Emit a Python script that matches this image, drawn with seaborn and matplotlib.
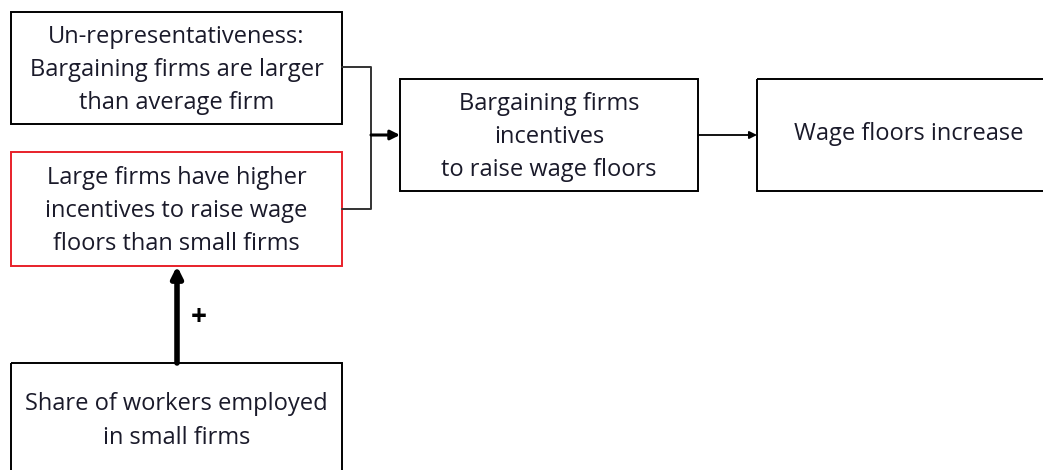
import matplotlib
matplotlib.use("Agg")
import matplotlib.pyplot as plt
import matplotlib.patches as patches
import seaborn as sns

# box labels
box_labels = [
    "Un-representativeness:\nBargaining firms are larger\nthan average firm",
    "Large firms have higher\nincentives to raise wage\nfloors than small firms",
    "Bargaining firms\nincentives\nto raise wage floors",
    "Wage floors increase",
    "Share of workers employed\nin small firms",
]
box_edge = ["black", "#e8202a", "black", "black", "black"]
sign_label = "+"

# layout in pixel coords: (x0, y0, x1, y1)
box_pos = [
    (11, 12, 342, 124),
    (11, 152, 342, 266),
    (400, 79, 698, 191),
    (757, 79, 1060, 191),
    (11, 363, 342, 480),
]
text_y = [70, 211, 137, 134, 421]

sns.set_theme(style="white")
plt.rcParams["font.family"] = ["Open Sans", "DejaVu Sans"]

fig = plt.figure(figsize=(10.43, 4.70), dpi=100)
ax = fig.add_axes([0, 0, 1, 1])
ax.set_xlim(0, 1043)
ax.set_ylim(470, 0)
ax.axis("off")

txt_color = "#1a1a2a"
for lab, (x0, y0, x1, y1), ec, ty in zip(box_labels, box_pos, box_edge, text_y):
    ax.add_patch(patches.Rectangle((x0, y0), x1 - x0, y1 - y0, fill=False,
                                   edgecolor=ec, linewidth=1.4))
    ax.text((x0 + x1) / 2, ty, lab, ha="center", va="center", fontsize=17,
            color=txt_color, linespacing=1.5)

# bracket connector from boxes 1 and 2
conn_x = [342, 371, 371, 342]
conn_y = [67, 67, 209, 209]
sns.lineplot(x=conn_x, y=conn_y, sort=False, estimator=None, errorbar=None,
             color="#333333", linewidth=1.4, ax=ax)
ax.annotate("", xy=(400, 135), xytext=(371, 135),
            arrowprops=dict(arrowstyle="-|>", color="black", lw=2.2,
                            mutation_scale=14, shrinkA=0, shrinkB=0))
ax.annotate("", xy=(757, 135), xytext=(698, 135),
            arrowprops=dict(arrowstyle="-|>", color="black", lw=1.3,
                            mutation_scale=11, shrinkA=0, shrinkB=0))
# thick upward arrow
ax.annotate("", xy=(177, 266), xytext=(177, 363),
            arrowprops=dict(arrowstyle="-|>", color="black", lw=4,
                            mutation_scale=16, shrinkA=0, shrinkB=0))
ax.text(199, 318, sign_label, ha="center", va="center", fontsize=20,
        fontweight="bold", color="black")

fig.savefig("out.png", dpi=100)
